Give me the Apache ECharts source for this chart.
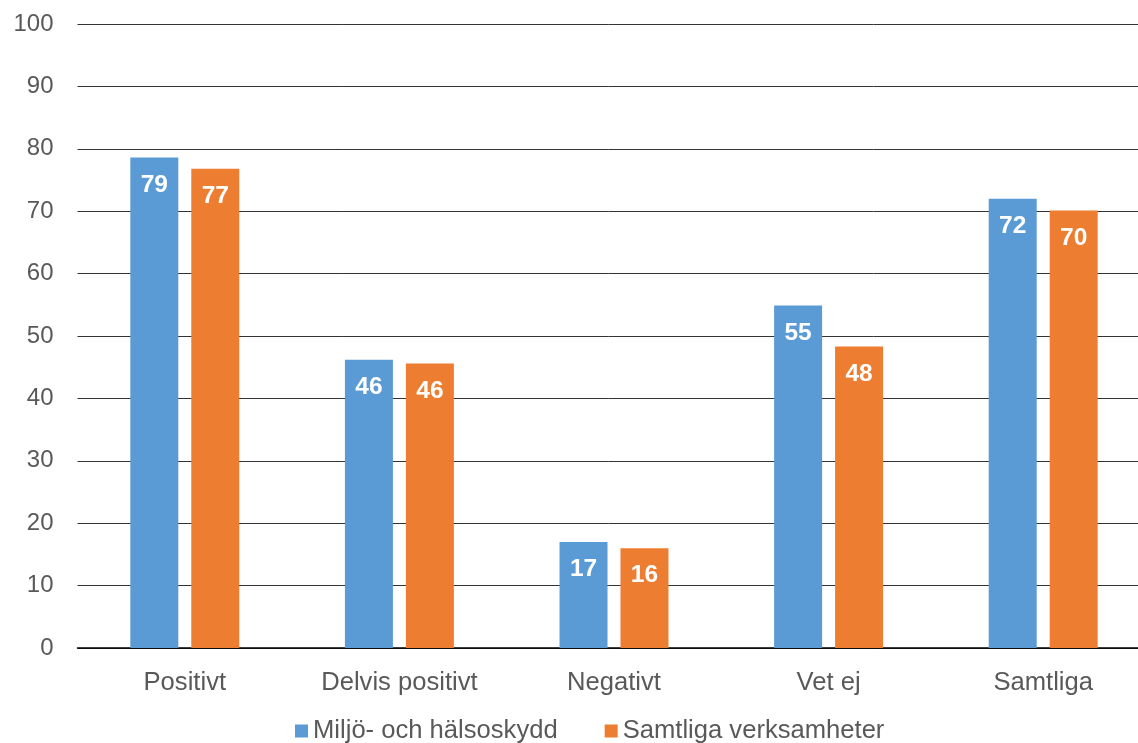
<!DOCTYPE html>
<html>
<head>
<meta charset="utf-8">
<script src="https://cdn.jsdelivr.net/npm/echarts@6/dist/echarts.min.js"></script>
<style>html,body{margin:0;padding:0;background:#fff;overflow:hidden}#c{width:1138px;height:743px}</style>
</head>
<body>
<div id="c"></div>
<script>
const categories = ['Positivt', 'Delvis positivt', 'Negativt', 'Vet ej', 'Samtliga'];
const seriesNames = ['Miljö- och hälsoskydd', 'Samtliga verksamheter'];
const miljo = [78.6, 46.2, 17.0, 54.9, 72.0];
const samtliga = [76.8, 45.6, 16.0, 48.3, 70.1];
const yTicks = [0, 10, 20, 30, 40, 50, 60, 70, 80, 90, 100];

const font = '"Liberation Sans", Arial, sans-serif';
const chart = echarts.init(document.getElementById('c'));
const label = {
  show: true, position: 'insideTop', distance: 15,
  color: '#fff', fontWeight: 'bold', fontSize: 24.5, fontFamily: font,
  formatter: p => Math.round(p.value)
};
chart.setOption({
  animation: false,
  grid: { left: 77.5, width: 1073, top: 24, bottom: 95, containLabel: false, outerBoundsMode: 'none' },
  legend: {
    top: 718, left: 295, padding: 0,
    itemWidth: 13, itemHeight: 13, itemGap: 47,
    icon: 'rect',
    textStyle: { color: '#595959', fontSize: 25.6, fontFamily: font }
  },
  xAxis: {
    type: 'category', data: categories,
    axisLine: { lineStyle: { color: '#000', width: 1.5 } },
    axisTick: { show: false },
    axisLabel: { color: '#595959', fontSize: 25.6, fontFamily: font, margin: 22 }
  },
  yAxis: {
    type: 'value', min: yTicks[0], max: yTicks[yTicks.length - 1], interval: 10,
    axisLine: { show: false }, axisTick: { show: false },
    axisLabel: { color: '#595959', fontSize: 24, fontFamily: font, margin: 24 },
    splitLine: { lineStyle: { color: '#333', width: 1 } }
  },
  series: [
    { name: seriesNames[0], type: 'bar', data: miljo, barWidth: 48, barGap: '27%',
      itemStyle: { color: '#5B9BD5' }, label },
    { name: seriesNames[1], type: 'bar', data: samtliga, barWidth: 48, barGap: '27%',
      itemStyle: { color: '#ED7D31' }, label }
  ]
});
</script>
</body>
</html>
